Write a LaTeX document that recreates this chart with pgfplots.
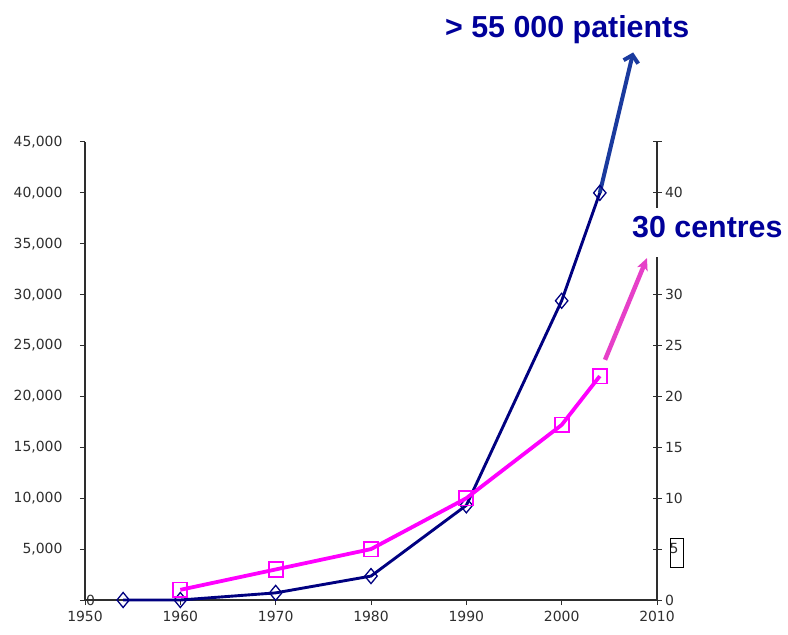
\documentclass[border=0pt]{standalone}
\usepackage{fontspec}
\setmainfont{DejaVu Sans}
\newfontfamily\labfont{Liberation Sans}
\usepackage{pgfplots}
\pgfplotsset{compat=1.18}
\usetikzlibrary{arrows.meta}
\definecolor{navy}{HTML}{000080}
\definecolor{arrowblue}{HTML}{1A3A9E}
\definecolor{txtblue}{HTML}{00009A}
\definecolor{pinkline}{HTML}{FF00FF}
\definecolor{pinkarrow}{HTML}{E640C8}
\definecolor{axisgrey}{HTML}{2E2E2E}
\pgfplotsset{
  common/.style={
    at={(0,0)}, anchor=south west, scale only axis,
    width=572bp, height=458bp,
    xmin=1950, xmax=2010,
    clip=false,
    axis line style={axisgrey, line width=1.3pt},
    tick style={axisgrey, line width=1pt},
    major tick length=5bp,
    tick label style={text=axisgrey, font=\fontsize{14}{15}\selectfont},
  }
}
\begin{document}
\begin{tikzpicture}
\useasboundingbox (-85bp,-35bp) rectangle (703bp,600bp);
\begin{axis}[common,
  ymin=0, ymax=45000,
  axis x line*=bottom, axis y line*=left,
  tick align=outside,
  scaled y ticks=false,
  xtick={1950,1960,1970,1980,1990,2000,2010},
  xticklabels={1950,1960,1970,1980,1990,2000,2010},
  xticklabel style={yshift=-3bp},
  ytick={0,5000,10000,15000,20000,25000,30000,35000,40000,45000},
  yticklabels={,{5,000},{10,000},{15,000},{20,000},{25,000},{30,000},{35,000},{40,000},{45,000}},
  yticklabel style={xshift=-14bp},
]
\addplot[navy, line width=2.9pt, mark=diamond, mark size=7.5bp,
  mark options={fill=white, line width=1.3pt, solid, xscale=1.1}]
  coordinates {(1954,0) (1960,0) (1970,700) (1980,2350) (1990,9300) (2000,29400) (2004,40000)};
\addplot[arrowblue, line width=4pt, -{Straight Barb[length=7bp, width=15bp, line width=4pt]}]
  coordinates {(2004,40000) (2007.5,53800)};
\node[anchor=west, text=axisgrey, font=\fontsize{14}{15}\selectfont, inner sep=1bp]
  at (axis cs:1950,0) {0};
\node[anchor=base west, inner sep=0pt, text=txtblue, font=\labfont\bfseries\fontsize{30.5}{32}\selectfont]
  at (axis cs:1987.76,55316) {> 55 000 patients};
\end{axis}
\begin{axis}[common,
  ymin=0, ymax=45,
  axis x line=none, axis y line*=right,
  tick align=center,
  major tick length=9bp,
  ytick={0,5,10,15,20,25,30,35,40,45},
  yticklabels={0,,10,15,20,25,30,,40,},
]
\addplot[pinkline, line width=3.8pt, mark=square, mark size=7bp,
  mark options={fill=white, line width=1.8pt, solid, yscale=1.05}]
  coordinates {(1960,1) (1970,3) (1980,5) (1990,10) (2000,17.2) (2004,22)};
\addplot[pinkarrow, line width=4.5pt, -{Stealth[length=12bp, width=11bp, inset=3bp]}]
  coordinates {(2004.55,23.6) (2008.95,33.6)};
\node[draw=black, line width=0.8pt, minimum width=13bp, minimum height=29bp, inner sep=0pt]
  at (axis cs:2012.1,4.67) {};
\node[anchor=west, text=axisgrey, font=\fontsize{14}{15}\selectfont, inner sep=0pt]
  at (axis cs:2011.3,5.1) {5};
\coordinate (c30) at (axis cs:2007.38,35.57);
\end{axis}
\node[anchor=base west, fill=white, inner xsep=0pt, inner ysep=0pt, text height=30bp, text depth=19bp,
  text=txtblue, font=\labfont\bfseries\fontsize{30.5}{32}\selectfont] at (c30) {30 centres};
\end{tikzpicture}
\end{document}
